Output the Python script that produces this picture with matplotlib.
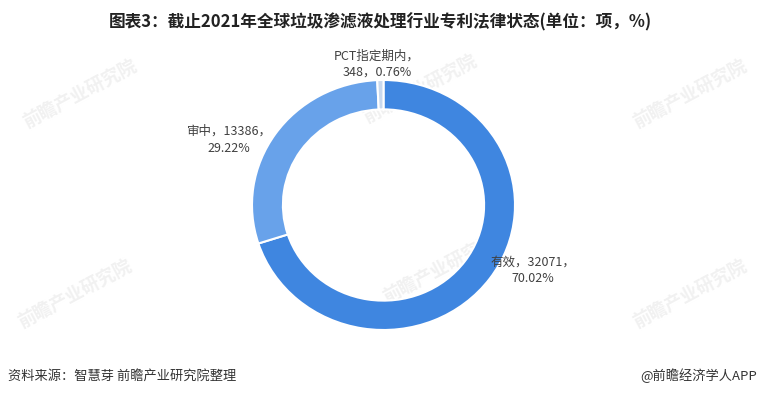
import matplotlib
matplotlib.use("Agg")
import matplotlib.pyplot as plt

plt.rcParams['font.family'] = ['Noto Sans CJK SC', 'DejaVu Sans']

categories = ['有效', '审中', 'PCT指定期内']
counts = [32071, 13386, 348]
percents = ['70.02%', '29.22%', '0.76%']
colors = ['#3f86e0', '#68a2ea', '#c9d9ee']

W, H = 760, 395
fig = plt.figure(figsize=(W / 100, H / 100), dpi=100)
fig.patch.set_facecolor('white')

# faint watermarks (background)
bg = fig.add_axes([0, 0, 1, 1])
bg.set_xlim(0, W)
bg.set_ylim(H, 0)
bg.axis('off')
for (wx, wy) in [(80, 95), (420, 90), (690, 95), (75, 295), (440, 270), (690, 295)]:
    bg.text(wx, wy, '前瞻产业研究院', fontsize=13, color='#f1f1f1', rotation=28,
            ha='center', va='center', fontweight='bold', zorder=0)

# donut
cx0, cx1 = 252, 515
cy0, cy1 = 80, 330
ax = fig.add_axes([cx0 / W, (H - cy1) / H, (cx1 - cx0) / W, (cy1 - cy0) / H])
ax.pie(counts, colors=colors, startangle=90, counterclock=False,
       wedgeprops=dict(width=0.235, edgecolor='white', linewidth=1.5))
ax.set_aspect('auto')
ax.set_xlim(-1, 1)
ax.set_ylim(-1, 1)
ax.axis('off')

# text overlay (foreground)
fg = fig.add_axes([0, 0, 1, 1])
fg.set_xlim(0, W)
fg.set_ylim(H, 0)
fg.axis('off')
fg.patch.set_alpha(0)

label_lines = [
    (f'{categories[0]}，{counts[0]}，', percents[0]),
    (f'{categories[1]}，{counts[1]}，', percents[1]),
    (f'{categories[2]}，', f'{counts[2]}，{percents[2]}'),
]
label_pos = [(533, 262, 279), (229, 131, 148), (377, 56, 72)]
for (l1, l2), (lx, ly1, ly2) in zip(label_lines, label_pos):
    fg.text(lx, ly1, l1, fontsize=9, color='#404040', ha='center', va='center')
    fg.text(lx, ly2, l2, fontsize=9, color='#404040', ha='center', va='center')

fg.text(380, 22, '图表3：截止2021年全球垃圾渗滤液处理行业专利法律状态(单位：项，%)',
        fontsize=12, fontweight='bold', color='#222222', ha='center', va='center')
fg.text(8, 376, '资料来源：智慧芽 前瞻产业研究院整理', fontsize=9.5, color='#333333',
        ha='left', va='center')
fg.text(757, 376, '@前瞻经济学人APP', fontsize=9.5, color='#333333',
        ha='right', va='center')

fig.savefig('out.png', dpi=100, facecolor='white')
